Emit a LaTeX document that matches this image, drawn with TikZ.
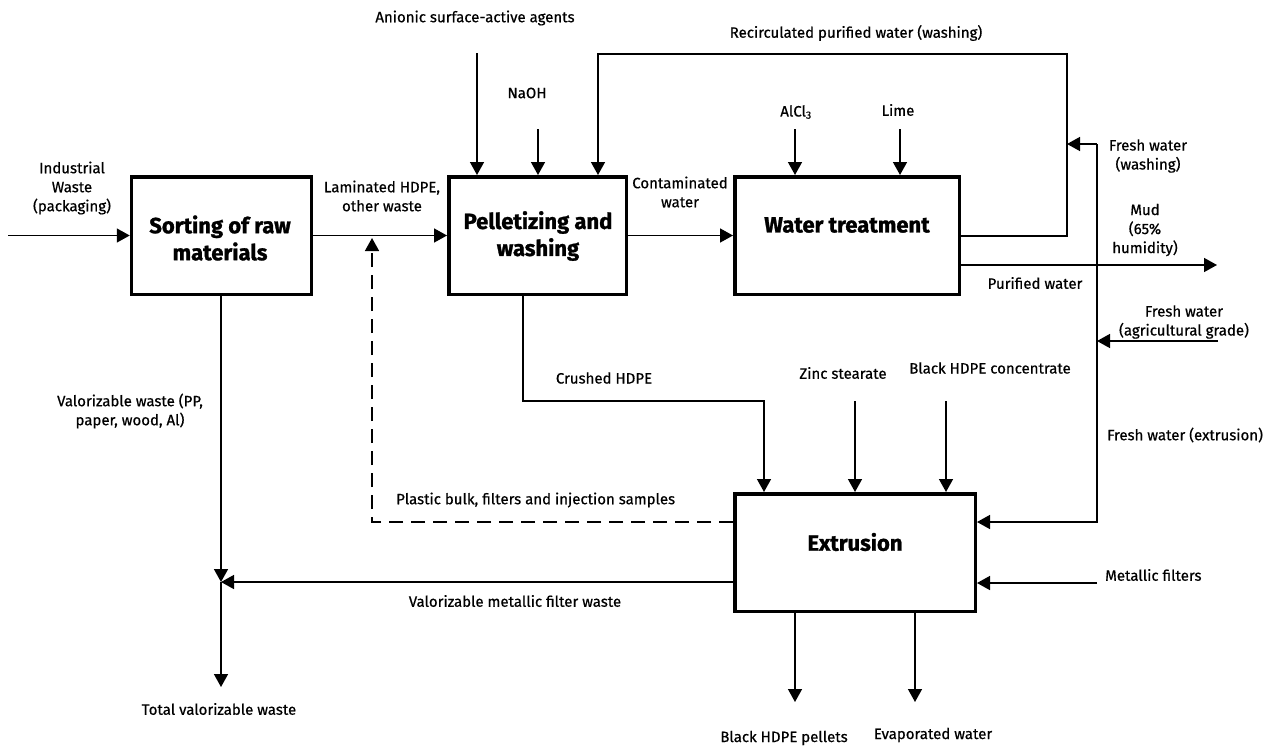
\documentclass[tikz,border=0pt]{standalone}
\usepackage{fontspec}
\setmainfont{Fira Sans}[BoldFeatures={FakeBold=1.2}]
\newfontface\labfont{Fira Sans}[FakeBold=0.6]
\usetikzlibrary{arrows.meta}
\usetikzlibrary{positioning}

\tikzset{
  box/.style={draw, line width=3.5pt, minimum width=#1, minimum height=117.5pt, inner sep=0pt},
  ttl/.style={font=\fontsize{22}{27}\selectfont\bfseries, align=center, inner sep=0pt},
  lab/.style={font=\labfont\fontsize{15}{19}\selectfont, align=center, inner sep=0pt},
  flow/.style={line width=1.5pt, -{Triangle[length=13pt,width=14pt]}},
  back/.style={line width=1.5pt, dash pattern=on 14pt off 8pt, -{Triangle[length=13pt,width=14pt]}}
}

\begin{document}
\begin{tikzpicture}[x=1pt, y=-1pt]
    \useasboundingbox (0,0) rectangle (1271,747);

    % Process boxes
    \node[box=180pt]   (sort)  at (221.5,235.5) {};
    \node[box=177.5pt] (pell)  at (537.5,235.5) {};
    \node[box=224.5pt] (water) at (847,235.5) {};
    \node[box=240.5pt] (extr)  at (855,552.5) {};

    \node[ttl] (sortt)  at (220,238) {Sorting of raw\\materials};
    \node[ttl] (pellt)  at (538,236) {Pelletizing and\\washing};
    \node[ttl] (watert) at (847,225) {Water treatment};
    \node[ttl] (extrt)  at (855,542) {Extrusion};

    % Stream labels
    \node[lab] (indw)    at (72,188)   {Industrial\\Waste\\(packaging)};
    \node[lab] (lamin)   at (382,196)  {Laminated HDPE,\\other waste};
    \node[lab] (anion)   at (475,18)   {Anionic surface-active agents};
    \node[lab] (naoh)    at (527,93)   {NaOH};
    \node[lab] (recirc)  at (856,33)   {Recirculated purified water (washing)};
    \node[lab] (alcl)    at (796,112)  {AlCl\textsubscript{3}};
    \node[lab] (lime)    at (898,110)  {Lime};
    \node[lab] (contam)  at (680,192)  {Contaminated\\water};
    \node[lab] (fwwash)  at (1148,156) {Fresh water\\(washing)};
    \node[lab] (mud)     at (1145,230) {Mud\\(65\%\\humidity)};
    \node[lab] (purif)   at (1035,283) {Purified water};
    \node[lab] (fwagri)  at (1184,322) {Fresh water\\(agricultural grade)};
    \node[lab] (valw)    at (130,411)  {Valorizable waste (PP,\\paper, wood, Al)};
    \node[lab] (crush)   at (604,378)  {Crushed HDPE};
    \node[lab] (zinc)    at (843,373)  {Zinc stearate};
    \node[lab] (blackc)  at (990,368)  {Black HDPE concentrate};
    \node[lab, anchor=west] (fwextr) at (1107,435) {Fresh water (extrusion)};
    \node[lab, anchor=west] (plast)  at (396,500)  {Plastic bulk, filters and injection samples};
    \node[lab, anchor=west] (metf)   at (1105,575) {Metallic filters};
    \node[lab] (valmet)  at (515,601)  {Valorizable metallic filter waste};
    \node[lab] (totval)  at (219,709)  {Total valorizable waste};
    \node[lab] (pellets) at (784,738)  {Black HDPE pellets};
    \node[lab] (evap)    at (933,735)  {Evaporated water};

    % Free ends and bends
    \coordinate (inw)     at (8,235.5);
    \coordinate (anin)    at (477,53);
    \coordinate (naohin)  at (538,129);
    \coordinate (rcin)    at (598,54);
    \coordinate (rcout)   at (1067,236);
    \coordinate (alin)    at (795,129);
    \coordinate (limein)  at (900,129);
    \coordinate (fwtop)   at (1097,144);
    \coordinate (fwbot)   at (1097,522);
    \coordinate (agrin)   at (1218,341);
    \coordinate (mudout)  at (1217,265);
    \coordinate (crbend)  at (523,401);
    \coordinate (crin)    at (764,401);
    \coordinate (znin)    at (855,401);
    \coordinate (bcin)    at (946,401);
    \coordinate (metin)   at (1097,583);
    \coordinate (junc)    at (221,582);
    \coordinate (totout)  at (221,687);
    \coordinate (dashup)  at (372,238);
    \coordinate (pelout)  at (795,702);
    \coordinate (evout)   at (915,702);

    % Main line
    \draw[flow] (inw) -- (sort.west);
    \draw[flow] (sort.east) -- (pell.west);
    \draw[flow] (pell.east) -- (water.west);

    % Inputs from above
    \draw[flow] (anin) -- (anin |- pell.north);
    \draw[flow] (naohin) -- (naohin |- pell.north);
    \draw[flow] (alin) -- (alin |- water.north);
    \draw[flow] (limein) -- (limein |- water.north);

    % Recirculated water
    \draw[flow] (water.east |- rcout) -- (rcout) |- (rcin) -- (rcin |- pell.north);

    % Fresh water
    \draw[flow] (fwtop) -- (rcout |- fwtop);
    \draw[flow] (fwtop) -- (fwbot) -- (extr.east |- fwbot);
    \draw[flow] (agrin) -- (fwtop |- agrin);

    % Mud out
    \draw[flow] (water.east |- mudout) -- (mudout);

    % Feed to extrusion
    \draw[flow] (pell.south -| crbend) -- (crbend) -- (crin) -- (crin |- extr.north);
    \draw[flow] (znin) -- (znin |- extr.north);
    \draw[flow] (bcin) -- (bcin |- extr.north);
    \draw[flow] (metin) -- (extr.east |- metin);

    % Recycle of plastic bulk
    \draw[back] (extr.west |- fwbot) -- (dashup |- fwbot) -- (dashup);

    % Valorizable waste
    \draw[flow] (sort.south -| junc) -- (junc);
    \draw[flow] (extr.west |- junc) -- (junc);
    \draw[flow] (junc) -- (totout);

    % Products
    \draw[flow] (extr.south -| pelout) -- (pelout);
    \draw[flow] (extr.south -| evout) -- (evout);
\end{tikzpicture}
\end{document}
